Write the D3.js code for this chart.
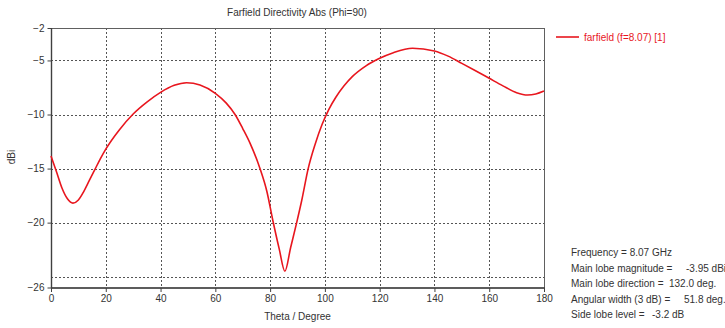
<!DOCTYPE html>
<html><head><meta charset="utf-8">
<script src="https://cdn.jsdelivr.net/npm/d3@7"></script>
<style>
body{margin:0;background:#fff;}
text{font-family:"Liberation Sans",Arial,sans-serif;}
</style></head>
<body><svg id="c" width="725" height="328"></svg>
<script>
const theta = [0,2,4,6,8,10,12,14,16,18,20,25,30,35,40,45,49.5,54.4,60,64,67.2,70,72.7,76.3,78.8,81,83.3,85.4,87.5,89.7,91.5,93.9,96.5,99,101.5,104,107,110,115,120,125,132,140,145,150,155,160,165,170,174,177,180];
const directivity = [-13.84,-15.3,-16.8,-17.8,-18.2,-17.9,-17.1,-16.1,-15.1,-14.1,-13.2,-11.4,-9.95,-8.85,-7.95,-7.3,-7.06,-7.27,-8.04,-8.95,-10,-11.3,-12.67,-15,-17.1,-19.8,-22.4,-24.5,-22.3,-20,-18,-15,-12.7,-10.9,-9.5,-8.4,-7.35,-6.5,-5.5,-4.8,-4.28,-3.87,-4.12,-4.6,-5.27,-5.95,-6.65,-7.35,-7.98,-8.2,-8.1,-7.83];
const xTicks = [0,20,40,60,80,100,120,140,160,180];
const yTickLabels = [-2,-5,-10,-15,-20,-26];
const yGrid = [-5,-10,-15,-20,-25];
const title = "Farfield Directivity Abs (Phi=90)";
const xLabel = "Theta / Degree";
const yLabel = "dBi";
const legendLabel = "farfield (f=8.07) [1]";
const infoLabels = ["Frequency = 8.07 GHz","Main lobe magnitude =","Main lobe direction =","Angular width (3 dB) =","Side lobe level ="];
const infoValues = ["","-3.95 dBi","132.0 deg.","51.8 deg.","-3.2 dB"];
const infoValueX = [0,686,669,684,652];

const svg = d3.select("#c");
const L=51,R=544,T=28,B=287.5;
const red="#e8161e", axisCol="#606060", txt="#333";
const fs="10px";
const x = d3.scaleLinear().domain([0,180]).range([L,R]);
const y = d3.scaleLinear().domain([-26,-2]).range([B,T]);

// grid
const g = svg.append("g");
g.selectAll(".vg").data(xTicks.filter(d=>d>0&&d<180)).enter().append("line")
 .attr("x1",d=>Math.round(x(d))+0.5).attr("x2",d=>Math.round(x(d))+0.5).attr("y1",T).attr("y2",B)
 .attr("stroke","#555").attr("stroke-width",1).attr("stroke-dasharray","2,2");
g.selectAll(".hg").data(yGrid).enter().append("line")
 .attr("x1",L).attr("x2",R).attr("y1",d=>Math.round(y(d))+0.5).attr("y2",d=>Math.round(y(d))+0.5)
 .attr("stroke","#555").attr("stroke-width",1).attr("stroke-dasharray","2,2");

// frame
svg.append("rect").attr("x",L+0.5).attr("y",T+0.5).attr("width",R-L).attr("height",B-T)
 .attr("fill","none").attr("stroke",axisCol).attr("stroke-width",1);
svg.append("line").attr("x1",L+0.5).attr("x2",L+0.5).attr("y1",T).attr("y2",B+1).attr("stroke","#404040").attr("stroke-width",1.4);
svg.append("line").attr("x1",L).attr("x2",R+1).attr("y1",B+0.5).attr("y2",B+0.5).attr("stroke","#404040").attr("stroke-width",1.4);

// axes
const xAxis = d3.axisBottom(x).tickValues(xTicks).tickSize(4).tickPadding(3);
const ax = svg.append("g").attr("transform",`translate(0,${B+0.5})`).call(xAxis);
ax.select(".domain").remove();
ax.selectAll("line").attr("stroke","#404040");
ax.selectAll("text").attr("fill",txt).style("font-size",fs).style("font-family","Liberation Sans, Arial, sans-serif");

const yAxis = d3.axisLeft(y).tickValues(yTickLabels).tickSize(4).tickPadding(3);
const ay = svg.append("g").attr("transform",`translate(${L+0.5},0)`).call(yAxis);
ay.select(".domain").remove();
ay.selectAll("line").attr("stroke","#404040");
ay.selectAll("text").attr("fill",txt).style("font-size",fs).style("font-family","Liberation Sans, Arial, sans-serif");

// curve
const line = d3.line().x((d,i)=>x(theta[i])).y(d=>y(d)).curve(d3.curveMonotoneX);
svg.append("path").datum(directivity).attr("d",line).attr("fill","none").attr("stroke",red).attr("stroke-width",1.6);

// titles
svg.append("text").attr("x",297).attr("y",16).attr("text-anchor","middle").attr("fill",txt).style("font-size",fs).text(title);
svg.append("text").attr("x",297.5).attr("y",320).attr("text-anchor","middle").attr("fill",txt).style("font-size",fs).text(xLabel);
svg.append("text").attr("transform","translate(15,157) rotate(-90)").attr("text-anchor","middle").attr("fill",txt).style("font-size",fs).text(yLabel);

// legend
svg.append("line").attr("x1",556).attr("x2",579).attr("y1",37).attr("y2",37).attr("stroke",red).attr("stroke-width",1.6);
svg.append("text").attr("x",584).attr("y",40.5).attr("fill",red).style("font-size",fs).text(legendLabel);

// info
infoLabels.forEach((s,i)=>{
  const yy = 256 + i*15.5;
  svg.append("text").attr("x",571).attr("y",yy).attr("fill",txt).style("font-size",fs).text(s);
  if(infoValues[i]) svg.append("text").attr("x",infoValueX[i]).attr("y",yy).attr("fill",txt).style("font-size",fs).text(infoValues[i]);
});
</script></body></html>
